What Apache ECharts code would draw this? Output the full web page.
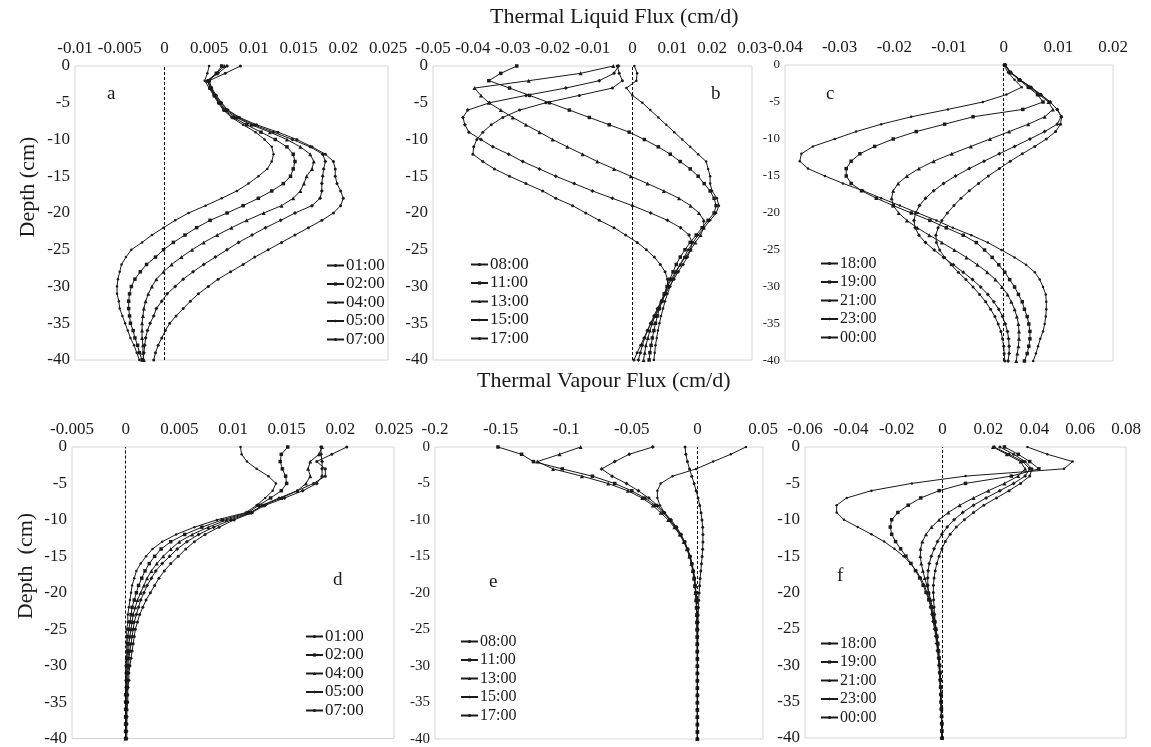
<!DOCTYPE html>
<html><head><meta charset="utf-8">
<script src="https://cdn.jsdelivr.net/npm/echarts@6/dist/echarts.min.js"></script>
<style>html,body{margin:0;padding:0;background:#fff}#c{width:1151px;height:747px}</style>
</head><body><div id="c"></div><script>
// ---------- data ----------
const depths = [0,-1,-2,-3,-4,-5,-6,-7,-8,-9,-10,-11,-12,-13,-14,-15,-16,-17,-18,-19,-20,-21,-22,-23,-24,-25,-26,-27,-28,-29,-30,-31,-32,-33,-34,-35,-36,-37,-38,-39,-40];

// Panel a: thermal liquid flux, night
const a0100 = [0.0050,0.0048,0.0045,0.0050,0.0055,0.0060,0.0066,0.0075,0.0088,0.0102,0.0112,0.0120,0.0122,0.0120,0.0115,0.0105,0.0094,0.0081,0.0064,0.0046,0.0027,0.0012,-0.0001,-0.0014,-0.0025,-0.0037,-0.0043,-0.0048,-0.0050,-0.0052,-0.0053,-0.0053,-0.0051,-0.0050,-0.0047,-0.0044,-0.0041,-0.0038,-0.0034,-0.0031,-0.0028];
const a0200 = [0.0064,0.0058,0.0050,0.0052,0.0056,0.0061,0.0067,0.0077,0.0092,0.0108,0.0124,0.0137,0.0144,0.0146,0.0144,0.0141,0.0133,0.0120,0.0105,0.0088,0.0070,0.0051,0.0036,0.0023,0.0010,-0.0001,-0.0010,-0.0020,-0.0027,-0.0033,-0.0037,-0.0039,-0.0040,-0.0040,-0.0039,-0.0038,-0.0035,-0.0033,-0.0030,-0.0028,-0.0025];
const a0400 = [0.0067,0.0058,0.0048,0.0051,0.0056,0.0062,0.0068,0.0080,0.0097,0.0118,0.0137,0.0152,0.0163,0.0167,0.0165,0.0159,0.0156,0.0152,0.0144,0.0131,0.0111,0.0092,0.0075,0.0059,0.0044,0.0031,0.0019,0.0008,-0.0001,-0.0009,-0.0014,-0.0018,-0.0021,-0.0023,-0.0024,-0.0025,-0.0025,-0.0025,-0.0024,-0.0024,-0.0023];
const a0500 = [0.0070,0.0060,0.0048,0.0052,0.0057,0.0063,0.0070,0.0082,0.0100,0.0122,0.0143,0.0163,0.0177,0.0180,0.0178,0.0177,0.0176,0.0176,0.0174,0.0165,0.0146,0.0130,0.0113,0.0098,0.0083,0.0070,0.0057,0.0044,0.0032,0.0021,0.0012,0.0003,-0.0003,-0.0009,-0.0012,-0.0016,-0.0019,-0.0021,-0.0022,-0.0023,-0.0024];
const a0700 = [0.0085,0.0068,0.0050,0.0053,0.0058,0.0064,0.0071,0.0084,0.0103,0.0127,0.0148,0.0165,0.0180,0.0189,0.0191,0.0191,0.0193,0.0197,0.0200,0.0197,0.0189,0.0176,0.0161,0.0146,0.0131,0.0116,0.0101,0.0088,0.0074,0.0060,0.0049,0.0038,0.0029,0.0021,0.0013,0.0006,0.0001,-0.0003,-0.0007,-0.0010,-0.0012];

// Panel b: thermal liquid flux, day
const b0800 = [0.0005,0.0012,0.0010,-0.0015,0.0000,0.0025,0.0045,0.0065,0.0085,0.0105,0.0125,0.0145,0.0165,0.0185,0.0190,0.0195,0.0195,0.0200,0.0212,0.0217,0.0210,0.0195,0.0180,0.0165,0.0152,0.0140,0.0130,0.0120,0.0110,0.0102,0.0095,0.0088,0.0082,0.0077,0.0072,0.0068,0.0064,0.0061,0.0058,0.0056,0.0054];
const b1100 = [-0.0290,-0.0330,-0.0360,-0.0308,-0.0258,-0.0208,-0.0158,-0.0108,-0.0058,-0.0008,0.0030,0.0065,0.0095,0.0120,0.0145,0.0165,0.0180,0.0195,0.0205,0.0210,0.0205,0.0190,0.0175,0.0160,0.0145,0.0132,0.0120,0.0110,0.0102,0.0094,0.0087,0.0080,0.0074,0.0068,0.0063,0.0058,0.0054,0.0050,0.0047,0.0044,0.0042];
const b1300 = [-0.0048,-0.0130,-0.0260,-0.0396,-0.0380,-0.0360,-0.0330,-0.0300,-0.0267,-0.0233,-0.0200,-0.0163,-0.0125,-0.0088,-0.0046,-0.0004,0.0038,0.0079,0.0117,0.0146,0.0167,0.0179,0.0179,0.0171,0.0158,0.0146,0.0133,0.0120,0.0108,0.0098,0.0088,0.0080,0.0072,0.0064,0.0057,0.0050,0.0044,0.0039,0.0034,0.0031,0.0028];
const b1500 = [-0.0035,-0.0046,-0.0083,-0.0167,-0.0267,-0.0358,-0.0413,-0.0425,-0.0420,-0.0410,-0.0380,-0.0350,-0.0310,-0.0275,-0.0233,-0.0192,-0.0146,-0.0100,-0.0050,0.0000,0.0046,0.0088,0.0121,0.0142,0.0150,0.0146,0.0138,0.0127,0.0115,0.0104,0.0093,0.0083,0.0073,0.0063,0.0054,0.0046,0.0038,0.0031,0.0025,0.0020,0.0015];
const b1700 = [-0.0038,-0.0033,-0.0025,-0.0050,-0.0133,-0.0217,-0.0283,-0.0325,-0.0354,-0.0375,-0.0390,-0.0398,-0.0400,-0.0375,-0.0346,-0.0308,-0.0267,-0.0225,-0.0192,-0.0150,-0.0117,-0.0083,-0.0046,-0.0017,0.0012,0.0035,0.0055,0.0070,0.0082,0.0088,0.0088,0.0083,0.0075,0.0067,0.0058,0.0046,0.0038,0.0029,0.0021,0.0012,0.0004];

// Panel c: thermal liquid flux, evening
const c1800 = [0.0000,0.0008,0.0020,0.0033,0.0005,-0.0038,-0.0102,-0.0169,-0.0224,-0.0270,-0.0309,-0.0349,-0.0370,-0.0373,-0.0358,-0.0327,-0.0294,-0.0257,-0.0224,-0.0190,-0.0157,-0.0123,-0.0093,-0.0059,-0.0029,-0.0004,0.0020,0.0041,0.0057,0.0066,0.0072,0.0077,0.0078,0.0078,0.0077,0.0075,0.0072,0.0067,0.0063,0.0059,0.0054];
const c1900 = [0.0002,0.0012,0.0028,0.0045,0.0062,0.0072,0.0035,-0.0056,-0.0108,-0.0160,-0.0202,-0.0236,-0.0263,-0.0279,-0.0288,-0.0288,-0.0279,-0.0260,-0.0233,-0.0202,-0.0169,-0.0135,-0.0105,-0.0074,-0.0050,-0.0035,-0.0021,-0.0009,0.0002,0.0011,0.0020,0.0027,0.0034,0.0038,0.0043,0.0046,0.0048,0.0048,0.0046,0.0043,0.0038];
const c2100 = [0.0002,0.0012,0.0030,0.0048,0.0065,0.0082,0.0090,0.0075,0.0045,0.0010,-0.0025,-0.0060,-0.0095,-0.0128,-0.0155,-0.0177,-0.0193,-0.0202,-0.0205,-0.0202,-0.0192,-0.0177,-0.0158,-0.0136,-0.0113,-0.0090,-0.0068,-0.0048,-0.0030,-0.0015,-0.0003,0.0007,0.0014,0.0020,0.0024,0.0027,0.0028,0.0028,0.0027,0.0025,0.0023];
const c2300 = [0.0003,0.0013,0.0030,0.0050,0.0068,0.0085,0.0098,0.0105,0.0098,0.0075,0.0048,0.0020,-0.0008,-0.0036,-0.0063,-0.0088,-0.0110,-0.0128,-0.0143,-0.0154,-0.0161,-0.0164,-0.0162,-0.0155,-0.0143,-0.0127,-0.0110,-0.0092,-0.0074,-0.0057,-0.0042,-0.0029,-0.0018,-0.0009,-0.0002,0.0003,0.0007,0.0009,0.0010,0.0010,0.0008];
const c0000 = [0.0003,0.0013,0.0030,0.0050,0.0068,0.0085,0.0098,0.0106,0.0104,0.0095,0.0078,0.0057,0.0034,0.0012,-0.0008,-0.0028,-0.0046,-0.0063,-0.0078,-0.0091,-0.0103,-0.0113,-0.0120,-0.0124,-0.0123,-0.0117,-0.0108,-0.0096,-0.0083,-0.0069,-0.0056,-0.0044,-0.0033,-0.0024,-0.0016,-0.0010,-0.0005,-0.0002,0.0000,0.0001,0.0002];

// Panel d: thermal vapour flux, night
const d0100 = [0.0107,0.0108,0.0113,0.0122,0.0133,0.0140,0.0137,0.0130,0.0122,0.0112,0.0085,0.0064,0.0047,0.0034,0.0025,0.0019,0.0014,0.0010,0.0008,0.0006,0.0005,0.0004,0.0003,0.0002,0.0002,0.0001,0.0001,0.0001,0.0001,0.0001,0,0,0,0,0,0,0,0,0,0,0];
const d0200 = [0.0151,0.0145,0.0144,0.0146,0.0149,0.0150,0.0145,0.0135,0.0124,0.0114,0.0090,0.0071,0.0055,0.0042,0.0033,0.0027,0.0022,0.0018,0.0015,0.0012,0.0010,0.0008,0.0006,0.0005,0.0004,0.0003,0.0002,0.0002,0.0002,0.0001,0.0001,0.0001,0.0001,0.0001,0,0,0,0,0,0,0];
const d0400 = [0.0183,0.0180,0.0172,0.0170,0.0172,0.0168,0.0160,0.0145,0.0128,0.0116,0.0094,0.0077,0.0062,0.0050,0.0042,0.0035,0.0029,0.0024,0.0020,0.0017,0.0014,0.0011,0.0009,0.0007,0.0006,0.0005,0.0004,0.0003,0.0003,0.0002,0.0002,0.0001,0.0001,0.0001,0.0001,0.0001,0.0001,0,0,0,0];
const d0500 = [0.0182,0.0182,0.0183,0.0183,0.0183,0.0178,0.0165,0.0148,0.0130,0.0117,0.0098,0.0082,0.0068,0.0057,0.0048,0.0041,0.0034,0.0028,0.0024,0.0020,0.0017,0.0014,0.0012,0.0010,0.0008,0.0007,0.0006,0.0005,0.0004,0.0003,0.0003,0.0002,0.0002,0.0002,0.0001,0.0001,0.0001,0.0001,0.0001,0,0];
const d0700 = [0.0206,0.0192,0.0178,0.0186,0.0186,0.0175,0.0160,0.0143,0.0127,0.0118,0.0101,0.0087,0.0074,0.0064,0.0056,0.0049,0.0042,0.0036,0.0031,0.0027,0.0023,0.0019,0.0016,0.0013,0.0011,0.0009,0.0008,0.0007,0.0006,0.0005,0.0004,0.0003,0.0003,0.0002,0.0002,0.0002,0.0001,0.0001,0.0001,0.0001,0.0001];

// Panel e: thermal vapour flux, day
const e0800 = [0.0370,0.0254,0.0120,-0.0010,-0.0190,-0.0280,-0.0305,-0.0305,-0.0285,-0.0250,-0.0210,-0.0170,-0.0130,-0.0100,-0.0075,-0.0055,-0.0040,-0.0030,-0.0020,-0.0015,-0.0010,-0.0007,-0.0005,-0.0003,-0.0002,-0.0001,-0.0001,-0.0001,0,0,0,0,0,0,0,0,0,0,0,0,0];
const e1100 = [-0.1520,-0.1340,-0.1250,-0.1030,-0.0800,-0.0630,-0.0500,-0.0400,-0.0320,-0.0260,-0.0210,-0.0165,-0.0128,-0.0098,-0.0075,-0.0057,-0.0043,-0.0033,-0.0025,-0.0018,-0.0013,-0.0009,-0.0006,-0.0004,-0.0003,-0.0002,-0.0001,-0.0001,-0.0001,0,0,0,0,0,0,0,0,0,0,0,0];
const e1300 = [-0.0890,-0.1050,-0.1220,-0.1100,-0.0880,-0.0680,-0.0530,-0.0420,-0.0340,-0.0280,-0.0222,-0.0175,-0.0135,-0.0104,-0.0080,-0.0061,-0.0046,-0.0035,-0.0026,-0.0019,-0.0014,-0.0010,-0.0007,-0.0005,-0.0003,-0.0002,-0.0001,-0.0001,-0.0001,0,0,0,0,0,0,0,0,0,0,0,0];
const e1500 = [-0.0340,-0.0520,-0.0630,-0.0730,-0.0650,-0.0540,-0.0450,-0.0370,-0.0305,-0.0250,-0.0200,-0.0158,-0.0124,-0.0096,-0.0074,-0.0056,-0.0042,-0.0031,-0.0023,-0.0017,-0.0012,-0.0009,-0.0006,-0.0004,-0.0003,-0.0002,-0.0001,-0.0001,0,0,0,0,0,0,0,0,0,0,0,0,0];
const e1700 = [-0.0094,-0.0088,-0.0076,-0.0060,-0.0043,-0.0025,-0.0010,0.0005,0.0018,0.0028,0.0035,0.0040,0.0042,0.0042,0.0040,0.0036,0.0031,0.0026,0.0021,0.0017,0.0013,0.0010,0.0008,0.0006,0.0005,0.0004,0.0003,0.0003,0.0002,0.0002,0.0001,0.0001,0.0001,0.0001,0.0001,0,0,0,0,0,0];

// Panel f: thermal vapour flux, evening
const f1800 = [0.0370,0.0457,0.0567,0.0530,0.0100,-0.0134,-0.0310,-0.0418,-0.0462,-0.0462,-0.0430,-0.0370,-0.0310,-0.0255,-0.0210,-0.0170,-0.0140,-0.0115,-0.0095,-0.0080,-0.0068,-0.0058,-0.0050,-0.0043,-0.0037,-0.0032,-0.0027,-0.0023,-0.0020,-0.0017,-0.0015,-0.0013,-0.0011,-0.0010,-0.0008,-0.0007,-0.0006,-0.0005,-0.0004,-0.0003,-0.0003];
const f1900 = [0.0270,0.0330,0.0380,0.0420,0.0300,0.0100,-0.0015,-0.0095,-0.0150,-0.0195,-0.0222,-0.0228,-0.0222,-0.0205,-0.0183,-0.0160,-0.0138,-0.0118,-0.0100,-0.0085,-0.0072,-0.0060,-0.0050,-0.0042,-0.0035,-0.0030,-0.0025,-0.0021,-0.0018,-0.0015,-0.0013,-0.0011,-0.0009,-0.0008,-0.0007,-0.0006,-0.0005,-0.0004,-0.0003,-0.0003,-0.0002];
const f2100 = [0.0220,0.0280,0.0340,0.0360,0.0330,0.0270,0.0200,0.0135,0.0075,0.0025,-0.0015,-0.0048,-0.0072,-0.0088,-0.0096,-0.0097,-0.0093,-0.0086,-0.0078,-0.0069,-0.0060,-0.0052,-0.0045,-0.0039,-0.0033,-0.0028,-0.0024,-0.0020,-0.0017,-0.0014,-0.0012,-0.0010,-0.0009,-0.0008,-0.0007,-0.0006,-0.0005,-0.0004,-0.0003,-0.0003,-0.0002];
const f2300 = [0.0225,0.0290,0.0350,0.0380,0.0360,0.0310,0.0250,0.0190,0.0135,0.0088,0.0050,0.0020,-0.0003,-0.0022,-0.0037,-0.0049,-0.0058,-0.0063,-0.0065,-0.0064,-0.0061,-0.0057,-0.0052,-0.0046,-0.0041,-0.0035,-0.0030,-0.0026,-0.0022,-0.0018,-0.0015,-0.0013,-0.0011,-0.0009,-0.0008,-0.0007,-0.0006,-0.0005,-0.0004,-0.0003,-0.0003];
const f0000 = [0.0250,0.0310,0.0360,0.0390,0.0380,0.0340,0.0290,0.0235,0.0180,0.0135,0.0095,0.0060,0.0033,0.0012,-0.0003,-0.0015,-0.0025,-0.0032,-0.0037,-0.0040,-0.0040,-0.0039,-0.0037,-0.0035,-0.0032,-0.0029,-0.0026,-0.0023,-0.0020,-0.0017,-0.0015,-0.0013,-0.0011,-0.0010,-0.0008,-0.0007,-0.0006,-0.0005,-0.0004,-0.0004,-0.0003];

// tick labels
const ticksA = [-0.01,-0.005,0,0.005,0.01,0.015,0.02,0.025];
const ticksB = [-0.05,-0.04,-0.03,-0.02,-0.01,0,0.01,0.02,0.03];
const ticksC = [-0.04,-0.03,-0.02,-0.01,0,0.01,0.02];
const ticksD = [-0.005,0,0.005,0.01,0.015,0.02,0.025];
const ticksE = [-0.2,-0.15,-0.1,-0.05,0,0.05];
const ticksF = [-0.06,-0.04,-0.02,0,0.02,0.04,0.06,0.08];
const depthTicks = [0,-5,-10,-15,-20,-25,-30,-35,-40];

const timesA = ['01:00','02:00','04:00','05:00','07:00'];
const timesB = ['08:00','11:00','13:00','15:00','17:00'];
const timesC = ['18:00','19:00','21:00','23:00','00:00'];

// ---------- chart ----------
const FONT = "'Liberation Serif','Times New Roman',serif";
const INK = '#1a1a1a';
const panels = [
  {grid:[75,66,313,294], ticks:ticksA, step:0.005, yFont:17, names:timesA, vals:[a0100,a0200,a0400,a0500,a0700], leg:[321,252], legFont:17, letter:['a',113,97]},
  {grid:[433,66,319,294], ticks:ticksB, step:0.01, yFont:17, names:timesB, vals:[b0800,b1100,b1300,b1500,b1700], leg:[465,251], legFont:17, letter:['b',717,97]},
  {grid:[785,65,328,296], ticks:ticksC, step:0.01, yFont:13, names:timesC, vals:[c1800,c1900,c2100,c2300,c0000], leg:[815,250], legFont:16, letter:['c',832,97]},
  {grid:[72,447,322,292], ticks:ticksD, step:0.005, yFont:17, names:timesA, vals:[d0100,d0200,d0400,d0500,d0700], leg:[300,623], legFont:17, letter:['d',339,583]},
  {grid:[435,447,328,292], ticks:ticksE, step:0.05, yFont:15, names:timesB, vals:[e0800,e1100,e1300,e1500,e1700], leg:[455,628], legFont:16, letter:['e',495,585]},
  {grid:[805,447,321,291], ticks:ticksF, step:0.02, yFont:17, names:timesC, vals:[f1800,f1900,f2100,f2300,f0000], leg:[815,630], legFont:16, letter:['f',843,579]}
];
const syms = ['circle','rect','triangle','diamond','circle'];
const symSizes = [2.5,3.5,4,4,3];

const grids=[], xAxes=[], yAxes=[], series=[], legends=[], graphics=[];
panels.forEach((p,i)=>{
  grids.push({left:p.grid[0], top:p.grid[1], width:p.grid[2], height:p.grid[3], show:true, borderColor:'#d6d6d6', borderWidth:1, backgroundColor:'#fff'});
  const tk = p.ticks;
  xAxes.push({gridIndex:i, type:'value', position:'top', min:tk[0], max:tk[tk.length-1], interval:p.step,
    axisLine:{show:false}, axisTick:{show:false}, splitLine:{show:false},
    axisLabel:{show:true, margin:9, fontFamily:FONT, fontSize:17, color:INK, showMinLabel:true, showMaxLabel:true,
      formatter:(v)=>{let best=tk[0];tk.forEach(t=>{if(Math.abs(t-v)<Math.abs(best-v))best=t;});return String(best);}}});
  yAxes.push({gridIndex:i, type:'value', min:depthTicks[depthTicks.length-1], max:depthTicks[0], interval:5,
    axisLine:{show:false}, axisTick:{show:false}, splitLine:{show:false},
    axisLabel:{margin:5, fontFamily:FONT, fontSize:p.yFont, color:INK, showMinLabel:true, showMaxLabel:true,
      formatter:(v)=>String(Math.round(v))}});
  p.vals.forEach((arr,k)=>{
    const s = {type:'line', name:p.names[k], xAxisIndex:i, yAxisIndex:i,
      data: arr.map((v,j)=>[v, depths[j]]),
      symbol:syms[k], symbolSize:symSizes[k], showSymbol:true,
      lineStyle:{color:INK, width:1}, itemStyle:{color:INK}, animation:false, z:3};
    if(k===0){
      s.markLine = {silent:true, symbol:['none','none'], label:{show:false},
        lineStyle:{color:'#000', type:[3,2], width:1}, data:[{xAxis:0}], animation:false};
    }
    series.push(s);
  });
  legends.push({show:true, left:p.leg[0], top:p.leg[1], orient:'vertical', itemWidth:17, itemHeight:4, itemGap:1.5,
    selectedMode:false, data:p.names.slice(),
    textStyle:{fontFamily:FONT, fontSize:p.legFont, color:INK, lineHeight:17, padding:[0,0,0,-3]}});
  graphics.push({type:'text', left:p.letter[1]-6, top:p.letter[2]-12, style:{text:p.letter[0], font:'19px '+FONT, fill:INK}});
});

graphics.push({type:'text', left:490, top:6, style:{text:'Thermal Liquid Flux (cm/d)', font:'22px '+FONT, fill:INK}});
graphics.push({type:'text', left:477, top:370, style:{text:'Thermal Vapour Flux (cm/d)', font:'22px '+FONT, fill:INK}});
graphics.push({type:'text', x:28, y:187, rotation:Math.PI/2, style:{text:'Depth (cm)', font:'22px '+FONT, fill:INK, align:'center', verticalAlign:'middle'}});
graphics.push({type:'text', x:26, y:566, rotation:Math.PI/2, style:{text:'Depth  (cm)', font:'22px '+FONT, fill:INK, align:'center', verticalAlign:'middle'}});

const chart = echarts.init(document.getElementById('c'), null, {renderer:'canvas'});
chart.setOption({backgroundColor:'#fff', animation:false, grid:grids, xAxis:xAxes, yAxis:yAxes, series:series, legend:legends, graphic:graphics});
</script></body></html>
